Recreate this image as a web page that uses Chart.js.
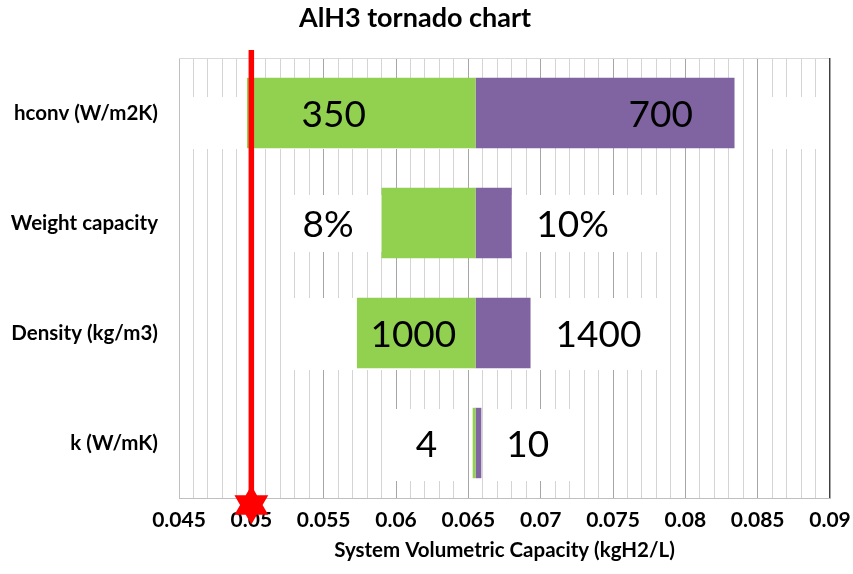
<!DOCTYPE html>
<html>
<head>
<meta charset="utf-8">
<script src="https://cdn.jsdelivr.net/npm/chart.js@4"></script>
<style>
  body { margin: 0; background: #fff; }
  #wrap { width: 853px; height: 574px; position: relative; }
</style>
</head>
<body>
<div id="wrap"><canvas id="myChart"></canvas></div>
<script>
// chart values
const categories = ['hconv (W/m2K)', 'Weight capacity', 'Density (kg/m3)', 'k (W/mK)'];
const baseValue = 0.0655;
const lowValues = [0.0497, 0.0590, 0.0573, 0.0653];
const highValues = [0.0834, 0.0680, 0.0693, 0.0659];
const lowLabels = ['350', '8%', '1000', '4'];
const highLabels = ['700', '10%', '1400', '10'];
const targetValue = 0.05;
const axisMin = 0.045;
const axisMax = 0.09;

// where the value labels sit (x in axis units) and their white boxes
const labelSpots = {
  lowAt: [0.0557, 0.0553, 0.0612, 0.0621],
  highAt: [0.0783, 0.0722, 0.0740, 0.0691],
  lowBox: [[0.04583, 0.0655], [0.05253, 0.0655], [0.05267, 0.0655], [0.05972, 0.06463]],
  highBox: [[0.08551, 0.08965], [0.0655, 0.07859], [0.0655, 0.0786], [0.06601, 0.07258]],
  boxSpan: [[-16, 36], [-28, 29], [-35, 37], [-34, 38]]
};

const ctx = document.getElementById('myChart');

const tornadoPlugin = {
  id: 'tornado',
  beforeDatasetsDraw(chart) {
    const c = chart.ctx, x = chart.scales.x, y = chart.scales.y;
    c.save();
    c.fillStyle = '#ffffff';
    for (let i = 0; i < categories.length; i++) {
      const yc = y.getPixelForValue(i);
      const sp = labelSpots.boxSpan[i];
      [labelSpots.lowBox[i], labelSpots.highBox[i]].forEach(b => {
        const x0 = x.getPixelForValue(b[0]), x1 = x.getPixelForValue(b[1]);
        c.fillRect(x0, yc + sp[0], x1 - x0, sp[1] - sp[0]);
      });
    }
    c.restore();
  },
  afterDatasetsDraw(chart) {
    const c = chart.ctx, x = chart.scales.x, y = chart.scales.y, area = chart.chartArea;
    c.save();
    // value labels
    c.font = '37px Lato';
    c.fillStyle = '#000';
    c.textAlign = 'center';
    c.textBaseline = 'middle';
    for (let i = 0; i < categories.length; i++) {
      const yc = y.getPixelForValue(i) + 2;
      c.fillText(lowLabels[i], x.getPixelForValue(labelSpots.lowAt[i]), yc);
      c.fillText(highLabels[i], x.getPixelForValue(labelSpots.highAt[i]), yc);
    }
    // plot border top / right
    c.lineWidth = 1;
    c.strokeStyle = '#d9d9d9';
    c.beginPath();
    c.moveTo(area.left, area.top + 0.5);
    c.lineTo(area.right, area.top + 0.5);
    c.stroke();
    c.strokeStyle = '#404040';
    c.beginPath();
    c.moveTo(area.right - 0.5, area.top);
    c.lineTo(area.right - 0.5, area.bottom);
    c.stroke();

    // target line with star
    const tx = x.getPixelForValue(targetValue);
    const sy = area.bottom + 7;
    c.strokeStyle = '#ff0000';
    c.lineWidth = 5.5;
    c.beginPath();
    c.moveTo(tx, area.top - 8);
    c.lineTo(tx, sy);
    c.stroke();
    const R = 19.5, r = R / Math.sqrt(3);
    c.fillStyle = '#ff0000';
    c.beginPath();
    for (let k = 0; k < 12; k++) {
      const rad = k % 2 === 0 ? R : r;
      const a = -Math.PI / 2 + k * Math.PI / 6;
      const px = tx + rad * Math.cos(a), py = sy + rad * Math.sin(a);
      if (k === 0) c.moveTo(px, py); else c.lineTo(px, py);
    }
    c.closePath();
    c.fill();
    c.restore();
  }
};

new Chart(ctx, {
  type: 'bar',
  data: {
    labels: categories,
    datasets: [{
      label: 'low',
      data: lowValues.map(v => [v, baseValue]),
      backgroundColor: '#92d050',
      grouped: false,
      barPercentage: 0.64,
      categoryPercentage: 1
    }, {
      label: 'high',
      data: highValues.map(v => [baseValue, v]),
      backgroundColor: '#8064a2',
      grouped: false,
      barPercentage: 0.64,
      categoryPercentage: 1
    }]
  },
  options: {
    indexAxis: 'y',
    responsive: true,
    maintainAspectRatio: false,
    animation: false,
    layout: { padding: { left: 0, right: 23, top: 0, bottom: 0 } },
    plugins: {
      legend: { display: false },
      tooltip: { enabled: false },
      title: {
        display: true,
        text: 'AlH3 tornado chart',
        color: '#000',
        font: { family: 'Lato', size: 27, weight: 'bold' },
        padding: { top: 2, bottom: 23.6 }
      }
    },
    scales: {
      x: {
        type: 'linear',
        min: axisMin,
        max: axisMax,
        afterFit: s => { s.height = 76; s.paddingRight = 0; s.paddingLeft = 0; },
        grid: {
          drawTicks: false,
          lineWidth: 1,
          color: c => (Math.round(c.tick.value * 1000) % 5 === 0 ? '#a6a6a6' : '#d4d4d4')
        },
        border: { color: '#bfbfbf' },
        ticks: {
          stepSize: 0.001,
          autoSkip: false,
          maxRotation: 0,
          padding: 10,
          color: '#000',
          font: { family: 'Lato', size: 21, weight: 'bold' },
          callback: v => (Math.round(v * 1000) % 5 === 0 ? String(Number(v.toFixed(3))) : '')
        },
        title: {
          display: true,
          text: 'System Volumetric Capacity (kgH2/L)',
          color: '#000',
          font: { family: 'Lato', size: 20.5, weight: 'bold' },
          padding: { top: 4, bottom: 11 }
        }
      },
      y: {
        afterFit: s => { s.width = 179; },
        grid: { display: false },
        border: { color: '#bfbfbf' },
        ticks: {
          padding: 13,
          color: '#000',
          font: { family: 'Lato', size: 20.5, weight: 'bold' }
        }
      }
    }
  },
  plugins: [tornadoPlugin]
});
</script>
</body>
</html>
